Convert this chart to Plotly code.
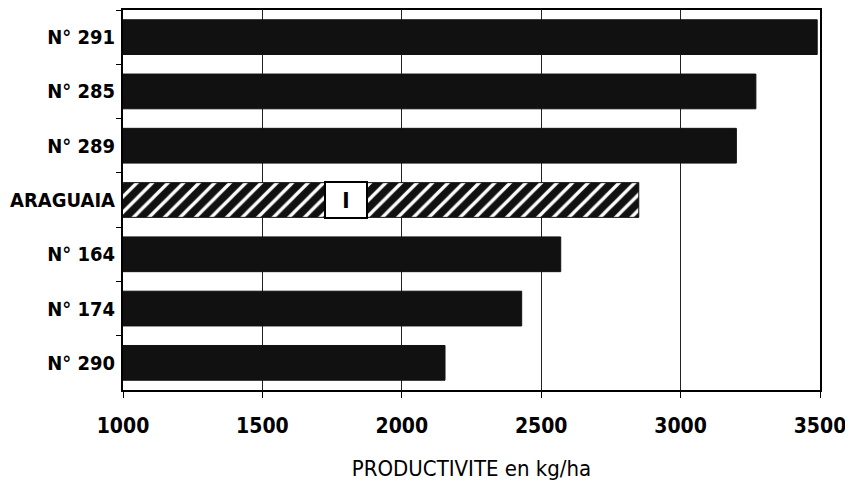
import plotly.graph_objects as go

categories = ["N° 291", "N° 285", "N° 289", "ARAGUAIA", "N° 164", "N° 174", "N° 290"]
productivity = [3490, 3270, 3200, 2850, 2570, 2430, 2155]
patterns = ["", "", "", "/", "", "", ""]
x_ticks = [1000, 1500, 2000, 2500, 3000, 3500]
x_tick_labels = ["1000", "1500", "2000", "2500", "3000", "3500"]
marker_label = "I"
marker_x = 1800
marker_cat = "ARAGUAIA"

FONT = "DejaVu Sans Condensed, DejaVu Sans, sans-serif"

fig = go.Figure()
fig.add_trace(go.Bar(
    y=categories,
    x=productivity,
    orientation="h",
    marker=dict(
        color="#111111",
        line=dict(color="#111111", width=1),
        pattern=dict(shape=patterns, fgcolor="white", bgcolor="#111111",
                     size=11, solidity=0.3, fillmode="replace"),
    ),
    showlegend=False,
))

fig.add_annotation(
    x=marker_x, y=marker_cat, xref="x", yref="y",
    text="<b>" + marker_label + "</b>", showarrow=False,
    font=dict(family=FONT, size=22, color="black"),
    bgcolor="white", bordercolor="black", borderwidth=2,
    width=38, height=32,
)

fig.update_layout(
    width=845, height=483,
    margin=dict(l=115, r=33, t=2, b=101),
    paper_bgcolor="white", plot_bgcolor="white",
    bargap=0.36,
    font=dict(family=FONT, color="black"),
)
fig.update_xaxes(
    range=[1000, 3500],
    automargin=False,
    tickvals=x_ticks, ticktext=x_tick_labels,
    showgrid=True, gridcolor="#222222", gridwidth=1,
    showline=True, linecolor="black", linewidth=2, mirror=True,
    ticks="outside", ticklen=6, tickcolor="black",
    ticklabelstandoff=10,
    tickfont=dict(family=FONT, size=21, color="black", weight="bold"),
    title=dict(text="PRODUCTIVITE en kg/ha",
               font=dict(family=FONT, size=22, color="black"), standoff=23),
    zeroline=False,
)
fig.update_yaxes(
    autorange="reversed",
    automargin=False,
    showline=True, linecolor="black", linewidth=2, mirror=True,
    ticks="outside", ticklen=5, tickson="boundaries", tickcolor="black",
    ticklabelstandoff=2,
    tickfont=dict(family=FONT, size=20, color="black", weight="bold"),
    showgrid=False,
)

fig.write_html("out.html")
